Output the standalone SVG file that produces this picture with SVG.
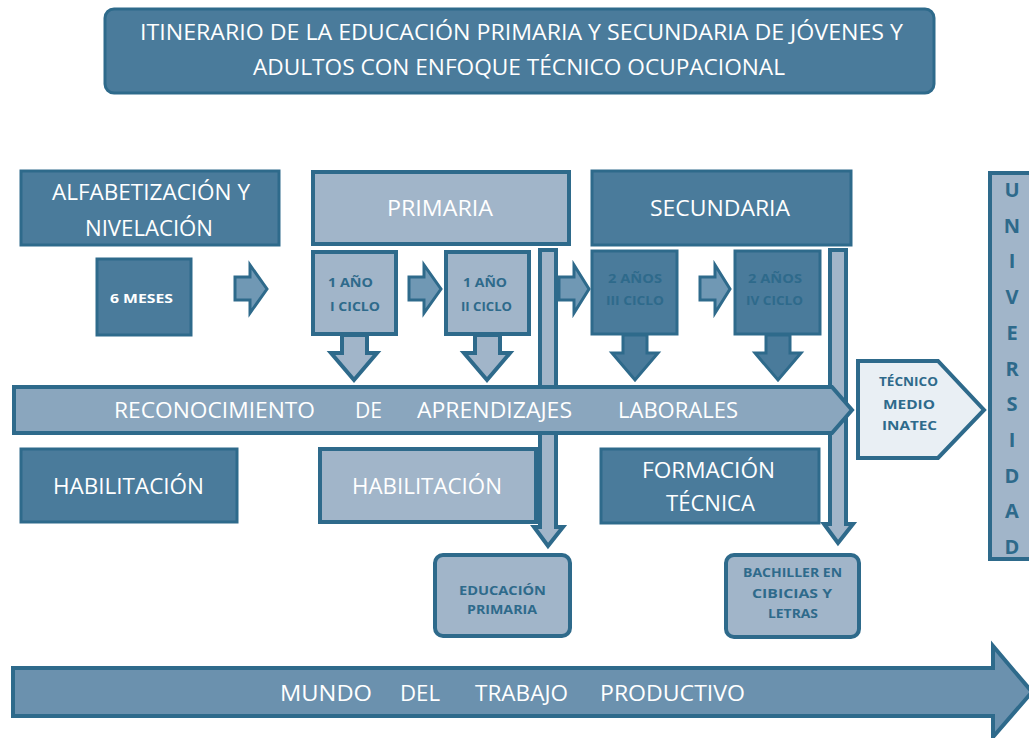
<svg xmlns="http://www.w3.org/2000/svg" width="1029" height="738" viewBox="0 0 1029 738">
<style>
.dk{fill:#4a7b9b;stroke:#2e6a8b;stroke-width:3}
.lt{fill:#a1b5c9;stroke:#2e6a8b;stroke-width:4}
.md{fill:#8aa6be;stroke:#2e6a8b;stroke-width:4}
.mu{fill:#6b91ae;stroke:#2e6a8b;stroke-width:4}
.ar{fill:#7098b4;stroke:#2e6a8b;stroke-width:3;stroke-linejoin:miter}
.pale{fill:#e9eff4;stroke:#2e6a8b;stroke-width:4}
text{font-family:"Open Sans","Liberation Sans",sans-serif}
.w{fill:#ffffff;font-size:22px}
.wb{fill:#ffffff;font-size:13px;font-weight:bold}
.b{fill:#2e6a8b;font-size:13px;font-weight:bold}
.u{fill:#2e6a8b;font-size:20px;font-weight:bold}
</style>

<g id="title">
<rect x="105" y="9" width="829" height="84" rx="9" class="dk"/>
<text class="w" x="140" y="40" textLength="763" lengthAdjust="spacingAndGlyphs">ITINERARIO DE LA EDUCACIÓN PRIMARIA Y SECUNDARIA DE JÓVENES Y</text>
<text class="w" x="253" y="75" textLength="532" lengthAdjust="spacingAndGlyphs">ADULTOS CON ENFOQUE TÉCNICO OCUPACIONAL</text>
</g>

<g id="connectors">
<path class="ar" d="M235,277 H250 V265 L267,289 L250,313 V300 H235 Z"/>
<path class="ar" d="M409,277 H424 V265 L441,289 L424,313 V300 H409 Z"/>
<path class="ar" d="M559,277 H574 V265 L589,289 L574,313 V300 H559 Z"/>
<path class="ar" d="M700,277 H715 V265 L730,289 L715,313 V300 H700 Z"/>
<path class="lt" stroke-width="3" d="M342,335 H367 V353 H377 L354,380 L331,353 H342 Z"/>
<path class="lt" stroke-width="3" d="M475,335 H500 V353 H510 L487,380 L464,353 H475 Z"/>
<path class="dk" d="M623,335 H647 V353 H658 L635,380 L612,353 H623 Z"/>
<path class="dk" d="M766,335 H790 V353 H801 L778,380 L755,353 H766 Z"/>
<path class="lt" stroke-width="3" d="M540,250 H556 V527 H563 L548,546 L534,527 H540 Z"/>
<path class="lt" stroke-width="3" d="M830,250 H846 V524 H853 L838,543 L824,524 H830 Z"/>
<path class="md" d="M14,387 H832 L852,410 L832,433 H14 Z"/>
<path class="mu" d="M13,668 H993 V646 L1032,692 L993,737 V716 H13 Z"/>
</g>

<g id="reconocimiento-label">
<text class="w" x="114" y="418" textLength="201" lengthAdjust="spacingAndGlyphs">RECONOCIMIENTO</text>
<text class="w" x="355" y="418" textLength="27" lengthAdjust="spacingAndGlyphs">DE</text>
<text class="w" x="417" y="418" textLength="155" lengthAdjust="spacingAndGlyphs">APRENDIZAJES</text>
<text class="w" x="618" y="418" textLength="120" lengthAdjust="spacingAndGlyphs">LABORALES</text>
</g>

<g id="mundo-label">
<text class="w" x="280" y="701" textLength="92" lengthAdjust="spacingAndGlyphs">MUNDO</text>
<text class="w" x="400" y="701" textLength="40" lengthAdjust="spacingAndGlyphs">DEL</text>
<text class="w" x="475" y="701" textLength="93" lengthAdjust="spacingAndGlyphs">TRABAJO</text>
<text class="w" x="600" y="701" textLength="145" lengthAdjust="spacingAndGlyphs">PRODUCTIVO</text>
</g>

<g id="alfabetizacion">
<rect x="21" y="171" width="258" height="74" class="dk"/>
<text class="w" x="52" y="200" textLength="198" lengthAdjust="spacingAndGlyphs">ALFABETIZACIÓN Y</text>
<text class="w" x="85" y="236" textLength="128" lengthAdjust="spacingAndGlyphs">NIVELACIÓN</text>
</g>

<g id="seis-meses">
<rect x="97" y="259" width="94" height="76" class="dk"/>
<text class="wb" x="110" y="303" textLength="63" lengthAdjust="spacingAndGlyphs">6 MESES</text>
</g>

<g id="primaria">
<rect x="313" y="172" width="256" height="72" class="lt"/>
<text class="w" x="387" y="216" textLength="106" lengthAdjust="spacingAndGlyphs">PRIMARIA</text>
</g>

<g id="secundaria">
<rect x="592" y="171" width="259" height="74" class="dk"/>
<text class="w" x="650" y="216" textLength="140" lengthAdjust="spacingAndGlyphs">SECUNDARIA</text>
</g>

<g id="ciclo-1">
<rect x="313" y="252" width="83" height="82" class="lt"/>
<text class="b" x="328" y="287" textLength="45" lengthAdjust="spacingAndGlyphs">1 AÑO</text>
<text class="b" x="330" y="311" textLength="50" lengthAdjust="spacingAndGlyphs">I CICLO</text>
</g>

<g id="ciclo-2">
<rect x="446" y="252" width="83" height="82" class="lt"/>
<text class="b" x="463" y="287" textLength="44" lengthAdjust="spacingAndGlyphs">1 AÑO</text>
<text class="b" x="461" y="311" textLength="51" lengthAdjust="spacingAndGlyphs">II CICLO</text>
</g>

<g id="ciclo-3">
<rect x="592" y="251" width="85" height="83" class="dk"/>
<text class="b" x="608" y="283" textLength="54" lengthAdjust="spacingAndGlyphs">2 AÑOS</text>
<text class="b" x="606" y="305" textLength="58" lengthAdjust="spacingAndGlyphs">III CICLO</text>
</g>

<g id="ciclo-4">
<rect x="735" y="251" width="85" height="83" class="dk"/>
<text class="b" x="748" y="283" textLength="54" lengthAdjust="spacingAndGlyphs">2 AÑOS</text>
<text class="b" x="746" y="305" textLength="57" lengthAdjust="spacingAndGlyphs">IV CICLO</text>
</g>

<g id="tecnico-medio">
<path class="pale" d="M858,361 H938 L984,410 L938,458 H858 Z"/>
<text class="b" x="879" y="386" textLength="59" lengthAdjust="spacingAndGlyphs">TÉCNICO</text>
<text class="b" x="883" y="409" textLength="52" lengthAdjust="spacingAndGlyphs">MEDIO</text>
<text class="b" x="882" y="430" textLength="55" lengthAdjust="spacingAndGlyphs">INATEC</text>
</g>

<g id="universidad">
<rect x="990" y="173" width="44" height="386" class="lt"/>
<g text-anchor="middle">
<text class="u" x="1012" y="197">U</text>
<text class="u" x="1012" y="233">N</text>
<text class="u" x="1012" y="268">I</text>
<text class="u" x="1012" y="304">V</text>
<text class="u" x="1012" y="340">E</text>
<text class="u" x="1012" y="376">R</text>
<text class="u" x="1012" y="411">S</text>
<text class="u" x="1012" y="447">I</text>
<text class="u" x="1012" y="483">D</text>
<text class="u" x="1012" y="518">A</text>
<text class="u" x="1012" y="554">D</text>
</g>
</g>

<g id="habilitacion-1">
<rect x="21" y="449" width="216" height="73" class="dk"/>
<text class="w" x="53" y="494" textLength="151" lengthAdjust="spacingAndGlyphs">HABILITACIÓN</text>
</g>

<g id="habilitacion-2">
<rect x="320" y="449" width="216" height="73" class="lt"/>
<text class="w" x="352" y="494" textLength="150" lengthAdjust="spacingAndGlyphs">HABILITACIÓN</text>
</g>

<g id="formacion-tecnica">
<rect x="601" y="449" width="218" height="74" class="dk"/>
<text class="w" x="642" y="478" textLength="133" lengthAdjust="spacingAndGlyphs">FORMACIÓN</text>
<text class="w" x="666" y="511" textLength="89" lengthAdjust="spacingAndGlyphs">TÉCNICA</text>
</g>

<g id="educacion-primaria">
<rect x="435" y="555" width="135" height="81" rx="8" class="lt"/>
<text class="b" x="459" y="595" textLength="87" lengthAdjust="spacingAndGlyphs">EDUCACIÓN</text>
<text class="b" x="467" y="614" textLength="70" lengthAdjust="spacingAndGlyphs">PRIMARIA</text>
</g>

<g id="bachiller">
<rect x="726" y="555" width="133" height="82" rx="8" class="lt"/>
<text class="b" x="743" y="577" textLength="99" lengthAdjust="spacingAndGlyphs">BACHILLER EN</text>
<text class="b" x="752" y="598" textLength="80" lengthAdjust="spacingAndGlyphs">CIBICIAS Y</text>
<text class="b" x="768" y="618" textLength="50" lengthAdjust="spacingAndGlyphs">LETRAS</text>
</g>
</svg>
